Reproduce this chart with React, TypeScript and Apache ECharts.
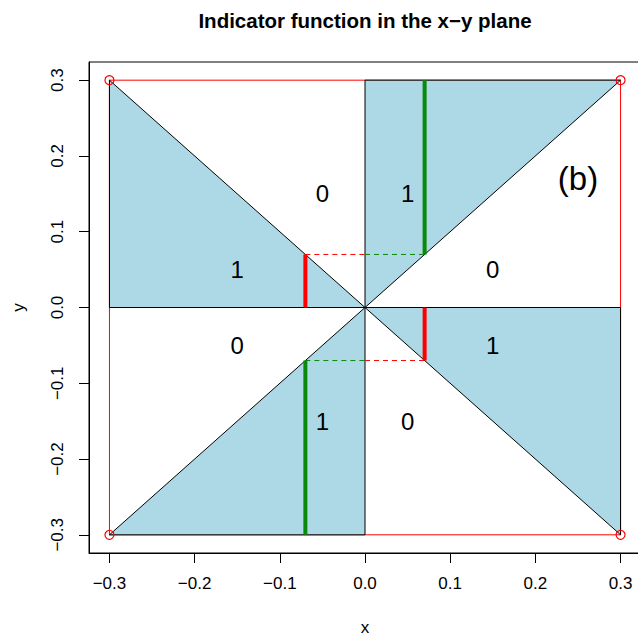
import React, { useEffect, useRef } from "react";
import * as echarts from "echarts";

const titleText = "Indicator function in the x\u2212y plane";
const xName = "x";
const yName = "y";
const xTicks = [-0.3, -0.2, -0.1, 0, 0.1, 0.2, 0.3];
const yTicks = [-0.3, -0.2, -0.1, 0, 0.1, 0.2, 0.3];
const axisMin = -0.324;
const axisMax = 0.324;

const boundary = [
  [-0.3, -0.3],
  [0.3, -0.3],
  [0.3, 0.3],
  [-0.3, 0.3],
  [-0.3, -0.3],
];
const corners = [
  [-0.3, -0.3],
  [0.3, -0.3],
  [0.3, 0.3],
  [-0.3, 0.3],
];
const polygons = [
  [[-0.3, 0], [-0.3, 0.3], [0, 0]],
  [[0, 0], [0, 0.3], [0.3, 0.3]],
  [[0, 0], [0.3, 0], [0.3, -0.3]],
  [[0, 0], [0, -0.3], [-0.3, -0.3]],
];
const redSegments = [
  [[-0.07, 0], [-0.07, 0.07]],
  [[0.07, 0], [0.07, -0.07]],
];
const greenSegments = [
  [[0.07, 0.07], [0.07, 0.3]],
  [[-0.07, -0.07], [-0.07, -0.3]],
];
const redDashed = [
  [[-0.07, 0.07], [0, 0.07]],
  [[0, -0.07], [0.07, -0.07]],
];
const greenDashed = [
  [[0, 0.07], [0.07, 0.07]],
  [[-0.07, -0.07], [0, -0.07]],
];
const regionLabels: [number, number, string][] = [
  [-0.05, 0.15, "0"],
  [0.05, 0.15, "1"],
  [-0.15, 0.05, "1"],
  [0.15, 0.05, "0"],
  [-0.15, -0.05, "0"],
  [0.15, -0.05, "1"],
  [-0.05, -0.15, "1"],
  [0.05, -0.15, "0"],
];
const panelLabel: [number, number, string] = [0.25, 0.17, "(b)"];

const FONT = "'Liberation Sans', Arial, Helvetica, sans-serif";
const RED = "#FF0000";
const GREEN = "#0A8A0A";
const FILL = "#ADD8E6";

const fmt = (v: number) => v.toFixed(1).replace("-", "\u2212");

function segSeries(segs: number[][][], color: string, width: number, dashed: boolean, z: number) {
  return segs.map((s) => ({
    type: "line",
    data: s,
    symbol: "none",
    silent: true,
    z,
    lineStyle: { color, width, type: dashed ? [5, 4] : "solid", cap: "butt" },
  }));
}

export default function App() {
  const ref = useRef<HTMLDivElement>(null);
  useEffect(() => {
    if (!ref.current) return;
    const chart = echarts.init(ref.current, null, { renderer: "svg" });
    const option: any = {
      animation: false,
      backgroundColor: "#fff",
      textStyle: { fontFamily: FONT },
      graphic: [
        {
          type: "text",
          x: 365,
          y: 20,
          style: {
            text: titleText,
            font: `bold 20.5px ${FONT}`,
            fill: "#000",
            textAlign: "center",
            textVerticalAlign: "middle",
          },
        },
      ],
      grid: {
        left: 89,
        top: 62,
        width: 552,
        height: 491,
        show: true,
        borderColor: "#000",
        borderWidth: 1,
        backgroundColor: "transparent",
        containLabel: false,
        outerBoundsMode: "none",
      },
      xAxis: {
        type: "value",
        min: axisMin,
        max: axisMax,
        name: xName,
        nameLocation: "middle",
        nameGap: 66,
        nameTextStyle: { fontSize: 17, color: "#000", fontFamily: FONT },
        axisLine: { show: true, onZero: false, lineStyle: { color: "#000", width: 1 } },
        axisTick: { show: true, length: 10, customValues: xTicks, lineStyle: { color: "#000", width: 1 } },
        axisLabel: { customValues: xTicks, formatter: fmt, fontSize: 17, color: "#000", margin: 22, fontFamily: FONT },
        splitLine: { show: false },
      },
      yAxis: {
        type: "value",
        min: axisMin,
        max: axisMax,
        name: yName,
        nameLocation: "middle",
        nameGap: 62,
        nameRotate: 90,
        nameTextStyle: { fontSize: 17, color: "#000", fontFamily: FONT },
        axisLine: { show: true, onZero: false, lineStyle: { color: "#000", width: 1 } },
        axisTick: { show: true, length: 10, customValues: yTicks, lineStyle: { color: "#000", width: 1 } },
        axisLabel: { customValues: yTicks, formatter: fmt, fontSize: 17, color: "#000", margin: 23, rotate: 90, fontFamily: FONT },
        splitLine: { show: false },
      },
      series: [
        {
          type: "line",
          data: boundary,
          symbol: "none",
          silent: true,
          z: 1,
          lineStyle: { color: RED, width: 1 },
        },
        {
          type: "custom",
          silent: true,
          z: 2,
          data: polygons.map((_, i) => [i]),
          renderItem: (params: any, api: any) => {
            const poly = polygons[params.dataIndex];
            return {
              type: "polygon",
              shape: { points: poly.map((p) => api.coord(p)) },
              style: { fill: FILL, stroke: "#000", lineWidth: 1 },
            };
          },
        },
        ...segSeries(redDashed, RED, 1, true, 3),
        ...segSeries(greenDashed, GREEN, 1, true, 3),
        ...segSeries(redSegments, RED, 4, false, 4),
        ...segSeries(greenSegments, GREEN, 4, false, 4),
        {
          type: "scatter",
          data: corners,
          symbol: "circle",
          symbolSize: 9,
          silent: true,
          z: 5,
          itemStyle: { color: "transparent", borderColor: RED, borderWidth: 1.2, opacity: 1 },
        },
        {
          type: "scatter",
          data: regionLabels,
          symbolSize: 0,
          silent: true,
          z: 6,
          itemStyle: { opacity: 1 },
          label: {
            show: true,
            position: "inside",
            formatter: (p: any) => p.value[2],
            fontSize: 24,
            color: "#000",
            fontFamily: FONT,
          },
        },
        {
          type: "scatter",
          data: [panelLabel],
          symbolSize: 0,
          silent: true,
          z: 6,
          itemStyle: { opacity: 1 },
          label: {
            show: true,
            position: "inside",
            formatter: (p: any) => p.value[2],
            fontSize: 33,
            color: "#000",
            fontFamily: FONT,
          },
        },
      ],
    };
    chart.setOption(option);
    return () => chart.dispose();
  }, []);
  return (
    <div
      ref={ref}
      style={{ position: "absolute", left: 0, top: 0, width: 638, height: 637, background: "#fff" }}
    />
  );
}
